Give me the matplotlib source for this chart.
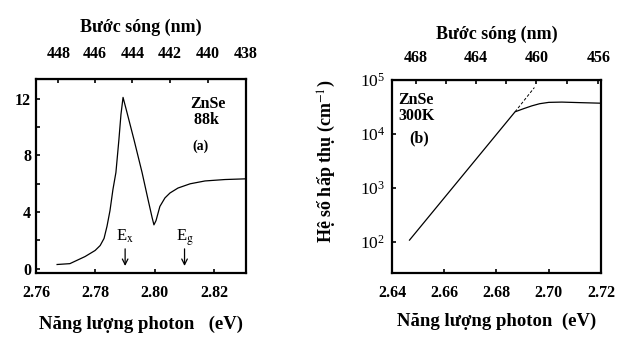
import numpy as np
import matplotlib
matplotlib.use('Agg')
import matplotlib.pyplot as plt

# (a) ZnSe 88K, photon energy (eV) vs signal
e_a = [2.7671, 2.7714, 2.7765, 2.7799, 2.7816, 2.7829, 2.7839, 2.7849,
       2.7859, 2.7869, 2.7879, 2.7886, 2.7893, 2.7903, 2.7930, 2.7957,
       2.7977, 2.7991, 2.7997, 2.8004, 2.8017, 2.8034, 2.8051, 2.8078,
       2.8119, 2.8169, 2.8236, 2.8307]
s_a = [0.3, 0.36, 0.86, 1.29, 1.64, 2.14, 3.0, 4.1,
       5.6, 6.8, 9.1, 10.9, 12.1, 11.3, 9.1, 6.8,
       4.9, 3.6, 3.1, 3.4, 4.4, 5.0, 5.35, 5.7,
       6.0, 6.2, 6.3, 6.35]
wl_a = [448, 446, 444, 442, 440, 438]

# (b) ZnSe 300K, absorption coefficient (log10 cm^-1)
e_b = [2.6467, 2.6871, 2.6905, 2.6935, 2.6965, 2.7000, 2.7050, 2.7120, 2.7196]
logk_b = [2.03, 4.41, 4.47, 4.52, 4.56, 4.585, 4.59, 4.58, 4.57]
e_dash = [2.6871, 2.6945]
logk_dash = [4.41, 4.86]
wl_b_labels = [468, 464, 460, 456]
wl_b_minor = [466, 462, 458]

HC = 1239.84

plt.rcParams['font.family'] = 'Liberation Serif'
plt.rcParams['mathtext.fontset'] = 'stix'

fig = plt.figure(figsize=(6.23, 3.46), dpi=100)
ax1 = fig.add_axes([0.0578, 0.2110, 0.3371, 0.5607])
ax2 = fig.add_axes([0.6292, 0.2110, 0.3355, 0.5578])

conv = (lambda e: HC / np.asarray(e, float), lambda w: HC / np.asarray(w, float))

# ---- panel (a)
ax1.plot(e_a, s_a, 'k-', lw=0.9)
ax1.set_xlim(2.76, 2.8307)
ax1.set_ylim(-0.3, 13.4)
ax1.set_xticks([2.76, 2.78, 2.80, 2.82])
ax1.set_xticklabels(['2.76', '2.78', '2.80', '2.82'])
ax1.set_yticks([0, 4, 8, 12])
ax1.set_yticks([2, 6, 10], minor=True)
ax1.tick_params(which='both', direction='in', labelsize=11.5, width=1.2, length=3)
ax1.tick_params(axis='x', pad=9)
for lab in ax1.get_xticklabels() + ax1.get_yticklabels():
    lab.set_fontweight('bold')
sec1 = ax1.secondary_xaxis('top', functions=conv)
sec1.set_xticks(wl_a)
sec1.tick_params(direction='in', labelsize=11.5, width=1.2, length=3, pad=12)
for lab in sec1.get_xticklabels():
    lab.set_fontweight('bold')
sec1.set_xlabel('Bước sóng (nm)', fontsize=13, fontweight='bold', labelpad=10)
ax1.set_xlabel('Năng lượng photon   (eV)', fontsize=13.5, fontweight='bold', labelpad=10)
ax1.text(2.812, 10.2, 'ZnSe\n 88k', fontsize=11.5, fontweight='bold', linespacing=1.0)
ax1.text(2.8125, 8.4, '(a)', fontsize=10, fontweight='bold')
ax1.annotate('', xy=(2.79, 0.0), xytext=(2.79, 1.6),
             arrowprops=dict(arrowstyle='->', lw=0.9, color='k'))
ax1.annotate('', xy=(2.81, 0.0), xytext=(2.81, 1.6),
             arrowprops=dict(arrowstyle='->', lw=0.9, color='k'))
ax1.text(2.79, 2.0, r'E$_\mathrm{x}$', fontsize=12, ha='center')
ax1.text(2.81, 2.0, r'E$_\mathrm{g}$', fontsize=12, ha='center')

# ---- panel (b)
ax2.semilogy(e_b, 10 ** np.array(logk_b), 'k-', lw=0.9)
ax2.semilogy(e_dash, 10 ** np.array(logk_dash), 'k--', lw=0.7, dashes=(3, 2))
ax2.set_xlim(2.64, 2.72)
ax2.set_ylim(10 ** 1.42, 1e5)
ax2.set_xticks([2.64, 2.66, 2.68, 2.70, 2.72])
ax2.set_xticklabels(['2.64', '2.66', '2.68', '2.70', '2.72'])
ax2.set_yticks([1e2, 1e3, 1e4, 1e5])
ax2.yaxis.set_minor_locator(matplotlib.ticker.NullLocator())
ax2.tick_params(direction='in', labelsize=11.5, width=1.2, length=3)
ax2.tick_params(axis='x', pad=9)
ax2.tick_params(axis='y', labelsize=12.5, pad=5)
for lab in ax2.get_xticklabels():
    lab.set_fontweight('bold')
sec2 = ax2.secondary_xaxis('top', functions=conv)
sec2.set_xticks(wl_b_labels)
sec2.set_xticks(wl_b_minor, minor=True)
sec2.tick_params(which='both', direction='in', labelsize=11.5, width=1.2, length=3, pad=10)
for lab in sec2.get_xticklabels():
    lab.set_fontweight('bold')
sec2.set_xlabel('Bước sóng (nm)', fontsize=13, fontweight='bold', labelpad=8)
ax2.set_xlabel('Năng lượng photon  (eV)', fontsize=13.5, fontweight='bold', labelpad=8)
ax2.set_ylabel('Hệ số hấp thụ (cm$^{-1}$)', fontsize=13, fontweight='bold')
ax2.yaxis.set_label_coords(-0.26, 0.58)
ax2.text(2.6425, 10 ** 4.25, 'ZnSe\n300K', fontsize=11.5, fontweight='bold', linespacing=1.0)
ax2.text(2.6465, 10 ** 3.85, '(b)', fontsize=11.5, fontweight='bold')

for ax in (ax1, ax2):
    for sp in ax.spines.values():
        sp.set_linewidth(1.6)

fig.savefig('out.png', dpi=100)
